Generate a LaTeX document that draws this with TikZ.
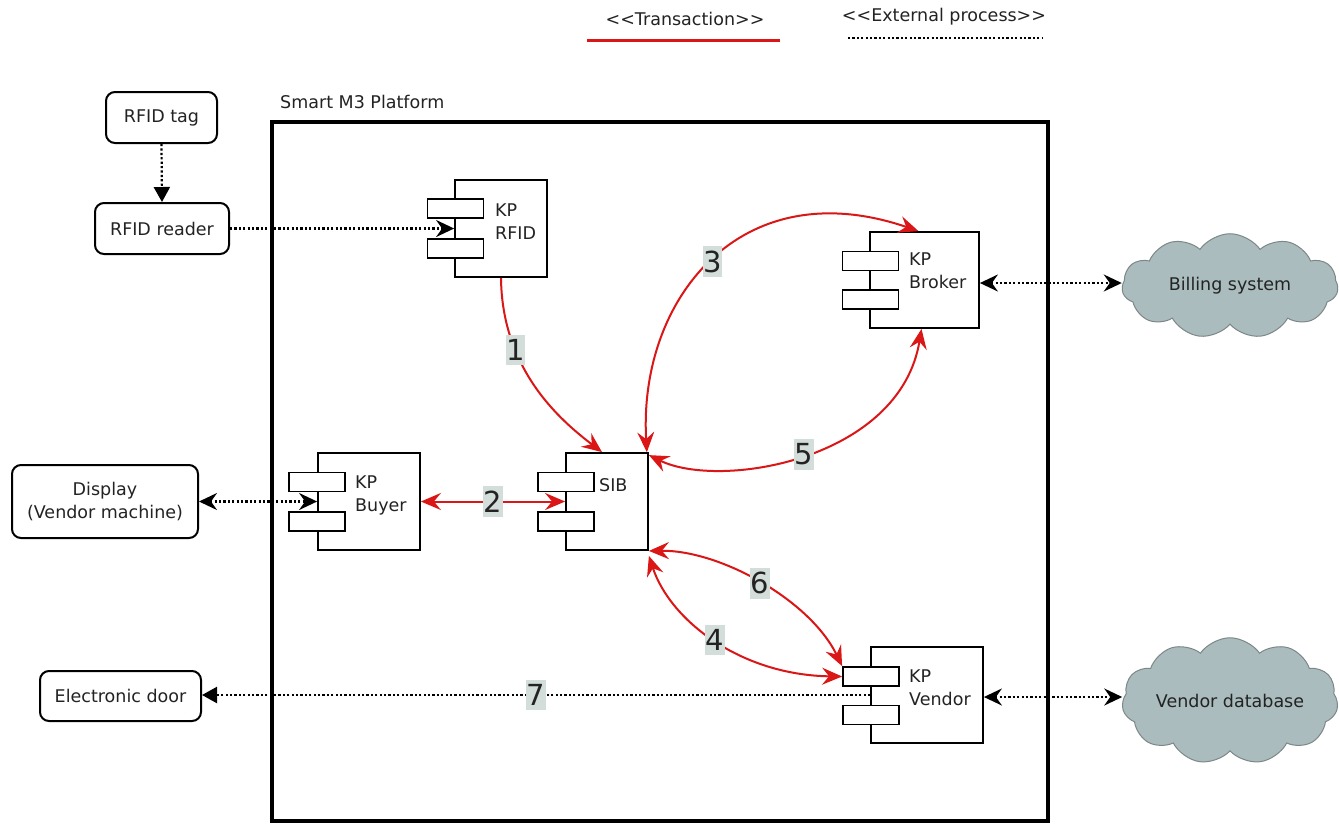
\documentclass[tikz,border=0pt]{standalone}
\usepackage{fontspec}
\setmainfont{DejaVu Sans}
\usetikzlibrary{arrows.meta,shapes.symbols,calc}
\definecolor{tred}{RGB}{218,22,22}
\definecolor{lblbg}{RGB}{211,222,219}
\definecolor{cloudfill}{RGB}{170,188,190}
\definecolor{clouddraw}{RGB}{125,135,135}
\definecolor{txt}{RGB}{35,35,35}
\newcommand\dlt{<\kern0pt<}
\newcommand\dgt{>\kern0pt>}
\tikzset{
  sth/.tip={Stealth[length=18pt, width=17pt, inset=6pt]},
  tri/.tip={Triangle[length=15pt, width=16pt]},
  rsth/.tip={Stealth[length=20pt,width=17pt,inset=7pt]}
}
\begin{document}
\begin{tikzpicture}[x=1pt,y=-1pt,
  txtf/.style={font=\fontsize{17.5}{23}\selectfont, text=txt},
  extbox/.style={draw, line width=2pt, rounded corners=9pt, txtf, align=center, inner sep=0pt},
  body/.style={draw, line width=1.8pt, fill=white, inner sep=0pt},
  port/.style={draw, line width=1.8pt, fill=white, minimum width=56pt, minimum height=19pt, inner sep=0pt},
  comptxt/.style={txtf, anchor=west, align=left, inner sep=0pt},
  cloudbox/.style={cloud, cloud puffs=11, cloud puff arc=110, aspect=2.1, draw=clouddraw, fill=cloudfill, line width=1pt, minimum width=216pt, minimum height=104pt, inner sep=0pt, txtf},
  extline/.style={line width=2.2pt, dash pattern=on 2.2pt off 2.2pt, black},
  tr/.style={line width=2pt, draw=tred, rsth-rsth},
  trs/.style={line width=2pt, draw=tred, -rsth},
  lbl/.style={fill=lblbg, font=\fontsize{29}{29}\selectfont, text=txt, inner xsep=0.5pt, inner ysep=4.5pt}
]
\fill[white] (0,0) rectangle (1339,823);
\useasboundingbox (0,0) rectangle (1339,823);

% legend
\node[txtf] (legT) at (685,19) {\dlt Transaction\dgt};
\node[txtf] (legE) at (944,17) {\dlt External process\dgt};
\coordinate (lt1) at (587,40); \coordinate (lt2) at (780,40);
\coordinate (le1) at (848,38); \coordinate (le2) at (1042,38);
\draw[line width=3pt, tred] (lt1) -- (lt2);
\draw[extline] (le1) -- (le2);

% platform
\draw[line width=4pt] (272,122) rectangle (1048,821);
\node[txtf, anchor=west, inner sep=0pt] (plat) at (280,102) {Smart M3 Platform};

% external boxes
\node[extbox, minimum width=111pt, minimum height=51pt] (tag) at (161.5,117.5) {RFID tag};
\node[extbox, minimum width=134pt, minimum height=51pt] (reader) at (162,228.5) {RFID reader};
\node[extbox, minimum width=186pt, minimum height=73pt] (display) at (105,501.5) {Display\\(Vendor machine)};
\node[extbox, minimum width=161pt, minimum height=50pt] (door) at (120.5,696) {Electronic door};

% clouds
\node[cloudbox] (billing) at (1230,286) {Billing system};
\node[cloudbox] (vdb) at (1230,701) {Vendor database};

% components
% KP RFID
\node[body, minimum width=92pt, minimum height=97pt] (rfid) at (501,228.5) {};
\node[port] (rp1) at (455.5,208.5) {};
\node[port] (rp2) at (455.5,248.5) {};
\node[comptxt] (rfidt) at (495,222) {KP\\RFID};
% KP Broker
\node[body, minimum width=109pt, minimum height=96pt] (broker) at (924.5,280) {};
\node[port] (bp1) at (870.5,261) {};
\node[port] (bp2) at (870.5,299.5) {};
\node[comptxt] (brokert) at (909,271) {KP\\Broker};
% KP Buyer
\node[body, minimum width=102pt, minimum height=97pt] (buyer) at (369,501.5) {};
\node[port] (yp1) at (317,482) {};
\node[port] (yp2) at (317,521.5) {};
\node[comptxt] (buyert) at (355,495) {KP\\Buyer};
% SIB
\node[body, minimum width=82pt, minimum height=97pt] (sib) at (607,501.5) {};
\node[port] (sp1) at (566,482) {};
\node[port] (sp2) at (566,521.5) {};
\node[comptxt] (sibt) at (599,485) {SIB};
% KP Vendor
\node[body, minimum width=112pt, minimum height=96pt] (vendor) at (927,695) {};
\node[port] (vp1) at (871,676.5) {};
\node[port] (vp2) at (871,715) {};
\node[comptxt] (vendort) at (909,688) {KP\\Vendor};

% external process connectors
\draw[extline, -tri] (tag.south) -- (reader.north);
\draw[extline, -sth] (reader.east) -- (rfid.west);
\draw[extline, sth-sth] (display.east |- buyer.west) -- (buyer.west);
\draw[extline, -tri] (vendor.west) -- (vendor.west -| door.east) node[lbl, pos=0.5] {7};
\draw[extline, sth-sth] ([yshift=-3pt]broker.east) -- ([yshift=-3pt]broker.east -| billing.west);
\draw[extline, sth-sth] ([yshift=-2pt]vendor.east) -- ([yshift=-2pt]vendor.east -| vdb.west);

% transactions
\draw[trs] (rfid.south) .. controls (502,370) and (560,420) .. ([xshift=-5pt]sib.north) node[lbl, pos=0.3] {1};
\draw[tr] (buyer.east) -- (sib.west) node[lbl, pos=0.5] {2};
\draw[tr] ([xshift=-2pt]sib.north east) .. controls (638,300) and (740,170) .. ([xshift=-6pt]broker.north) node[lbl, pos=0.5] {3};
\draw[tr] ([yshift=-3pt]sib.north east) .. controls (720,490) and (900,460) .. ([xshift=-3pt]broker.south) node[lbl, pos=0.5] {5};
\draw[tr] (sib.south east) .. controls (720,550) and (810,600) .. (vp1.north west) node[lbl, pos=0.5] {6};
\draw[tr] ([yshift=-5pt]sib.south east) .. controls (670,620) and (740,675) .. (vp1.west) node[lbl, pos=0.5] {4};
\end{tikzpicture}
\end{document}
